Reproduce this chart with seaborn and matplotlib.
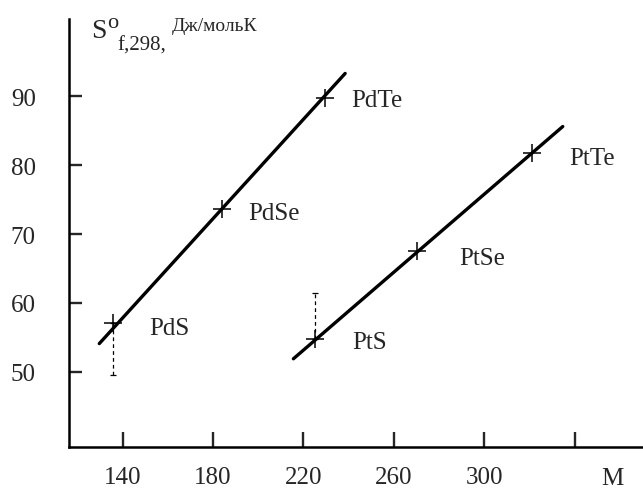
import matplotlib
matplotlib.use("Agg")
import matplotlib.pyplot as plt
import pandas as pd
import seaborn as sns

# ── Data ─────────────────────────────────────────────────────
compounds = ["PdS", "PdSe", "PdTe", "PtS", "PtSe", "PtTe"]
metal = ["Pd", "Pd", "Pd", "Pt", "Pt", "Pt"]
molar_mass = [135.8, 184.0, 229.6, 225.2, 270.4, 321.0]
entropy = [57.1, 73.6, 89.8, 54.8, 67.6, 81.8]

# fitted straight lines (end points)
pd_fit_m = [129.7, 238.5]
pd_fit_s = [54.1, 93.3]
pt_fit_m = [215.6, 334.8]
pt_fit_s = [51.9, 85.6]

# uncertainty ranges for the sulfides
err_m = [135.8, 225.2]
err_lo = [49.5, 54.8]
err_hi = [57.1, 61.4]

x_ticks = [140, 180, 220, 260, 300, 340]
x_tick_labels = ["140", "180", "220", "260", "300", ""]
y_ticks = [50, 60, 70, 80, 90]

df = pd.DataFrame({"compound": compounds, "metal": metal,
                   "M": molar_mass, "S": entropy})
fits = pd.DataFrame({
    "M": pd_fit_m + pt_fit_m,
    "S": pd_fit_s + pt_fit_s,
    "metal": ["Pd", "Pd", "Pt", "Pt"],
})

# ── Style ────────────────────────────────────────────────────
sns.set_theme(style="white")
plt.rcParams["font.family"] = ["Liberation Serif", "DejaVu Serif"]

fig = plt.figure(figsize=(6.43, 4.89), dpi=100)
ax = fig.add_axes([69 / 643, 41 / 489, 1 - 69 / 643, 428 / 489])

sns.lineplot(data=fits, x="M", y="S", units="metal", estimator=None,
             color="black", linewidth=2.4, ax=ax, legend=False)
sns.scatterplot(data=df, x="M", y="S", marker="+", s=150, color="black",
                linewidth=1.1, ax=ax, legend=False, zorder=3)

ax.vlines(err_m, err_lo, err_hi, colors="black", linestyles=(0, (3, 2.5)),
          linewidth=0.9)
ax.hlines(err_lo + err_hi, [m - 1.2 for m in err_m * 2],
          [m + 1.2 for m in err_m * 2], colors="black", linewidth=0.9)

offsets = {"PdS": (26, -4), "PdSe": (19, -3), "PdTe": (19, -2),
           "PtS": (27, -2), "PtSe": (30, -5), "PtTe": (27, -4)}
for name, m, s in zip(compounds, molar_mass, entropy):
    ax.annotate(name, (m, s), textcoords="offset points", xytext=offsets[name],
                ha="left", va="center", fontsize=18)

ax.set_xlim(116.3, 370.3)
ax.set_ylim(39.1, 101.2)
ax.set_xticks(x_ticks)
ax.set_xticklabels(x_tick_labels)
ax.set_yticks(y_ticks)
ax.set_xlabel("")
ax.set_ylabel("")
ax.tick_params(axis="x", direction="in", length=11, width=1.7, pad=14,
               labelsize=18, bottom=True)
ax.tick_params(axis="y", direction="in", length=9.4, width=1.7, pad=24,
               labelsize=18, left=True)
for side in ["top", "right"]:
    ax.spines[side].set_visible(False)
for side in ["left", "bottom"]:
    ax.spines[side].set_linewidth(1.8)
    ax.spines[side].set_color("black")

ax.text(356.7, -20 / 428, "M", transform=ax.get_xaxis_transform(),
        ha="center", va="top", fontsize=18)

# axis title: S°f,298, Дж/мольК
fig.text(91 / 643, 1 - 37.5 / 489, "S", fontsize=20, ha="left",
         va="baseline")
fig.text(107 / 643, 1 - 28.5 / 489, "o", fontsize=16, ha="left",
         va="baseline")
fig.text(117 / 643, 1 - 51 / 489, "f,298,", fontsize=15, ha="left",
         va="baseline")
fig.text(172 / 643, 1 - 31 / 489, "Дж/мольК", fontsize=14, ha="left",
         va="baseline")

fig.savefig("out.png", dpi=100, facecolor="white")
